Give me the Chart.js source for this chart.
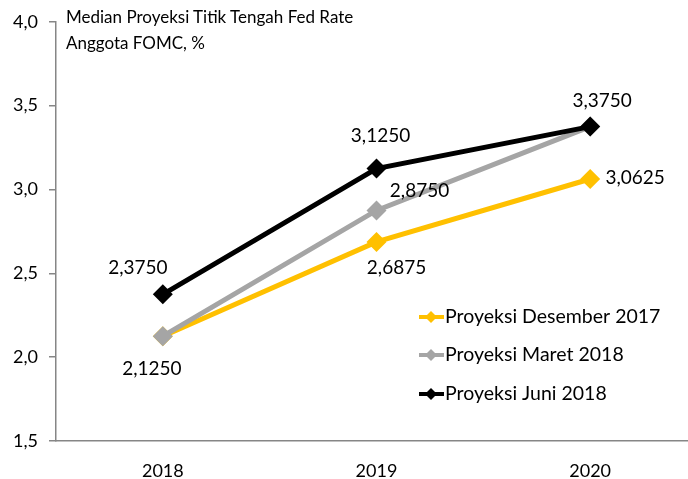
<!DOCTYPE html>
<html>
<head>
<meta charset="utf-8">
<script src="https://cdn.jsdelivr.net/npm/chart.js@4.4.1/dist/chart.umd.min.js"></script>
<style>
  html, body { margin: 0; padding: 0; background: #fff; overflow: hidden; }
  #wrap { position: relative; width: 688px; height: 479px; overflow: hidden; }
  #chart { position: absolute; left: 0; top: 0; }
  #title { position: absolute; left: 66px; top: 4px; font: 17px Lato, sans-serif; line-height: 26px; color: #000; }
</style>
</head>
<body>
<div id="wrap">
  <canvas id="chart" width="707" height="479"></canvas>
  <div id="title">Median Proyeksi Titik Tengah Fed Rate<br>Anggota FOMC, %</div>
</div>
<script>
const years = ["2018", "2019", "2020"];
const seriesNames = ["Proyeksi Desember 2017", "Proyeksi Maret 2018", "Proyeksi Juni 2018"];
const proyeksiDes2017 = [2.125, 2.6875, 3.0625];
const proyeksiMar2018 = [2.125, 2.875, 3.375];
const proyeksiJun2018 = [2.375, 3.125, 3.375];
const yTicks = [1.5, 2.0, 2.5, 3.0, 3.5, 4.0];

const colors = ["#FFC000", "#A5A5A5", "#000000"];

// label offsets from the point (null = no label), as in the picture
const labelOffsets = [
  [null, [20, 26], [45, -1]],
  [[-11, 33], [43, -20], null],
  [[-25, -26], [4, -33], [12, -26]]
];

const fmt = v => v.toFixed(4).replace(".", ",");

const dataLabels = {
  id: "dataLabels",
  afterDatasetsDraw(chart) {
    const ctx = chart.ctx;
    ctx.save();
    ctx.font = "19px Lato, sans-serif";
    ctx.fillStyle = "#000";
    ctx.textAlign = "center";
    ctx.textBaseline = "middle";
    chart.data.datasets.forEach((ds, i) => {
      const meta = chart.getDatasetMeta(i);
      meta.data.forEach((pt, j) => {
        const off = labelOffsets[i][j];
        if (!off) return;
        ctx.fillText(fmt(ds.data[j]), pt.x + off[0], pt.y + off[1]);
      });
    });
    ctx.restore();
  }
};

const innerLegend = {
  id: "innerLegend",
  afterDraw(chart) {
    const ctx = chart.ctx;
    ctx.save();
    ctx.font = "19.5px Lato, sans-serif";
    ctx.textBaseline = "middle";
    const rowsY = [317, 355, 394];
    seriesNames.forEach((name, i) => {
      const y = rowsY[i];
      ctx.strokeStyle = colors[i];
      ctx.lineWidth = 4;
      ctx.beginPath();
      ctx.moveTo(419, y);
      ctx.lineTo(444, y);
      ctx.stroke();
      ctx.fillStyle = colors[i];
      ctx.beginPath();
      ctx.moveTo(431, y - 6);
      ctx.lineTo(437, y);
      ctx.lineTo(431, y + 6);
      ctx.lineTo(425, y);
      ctx.closePath();
      ctx.fill();
      ctx.fillStyle = "#000";
      ctx.fillText(name, 445, y);
    });
    ctx.restore();
  }
};

const makeSet = (label, data, i) => ({
  label: label,
  data: data,
  borderColor: colors[i],
  backgroundColor: colors[i],
  borderWidth: 5,
  pointStyle: "rectRot",
  pointRadius: 10,
  pointBorderWidth: 0,
  pointHoverRadius: 10,
  tension: 0,
  order: 2 - i
});

new Chart(document.getElementById("chart"), {
  type: "line",
  data: {
    labels: years,
    datasets: [
      makeSet(seriesNames[0], proyeksiDes2017, 0),
      makeSet(seriesNames[1], proyeksiMar2018, 1),
      makeSet(seriesNames[2], proyeksiJun2018, 2)
    ]
  },
  options: {
    responsive: false,
    animation: false,
    layout: { padding: { top: 16, right: 0, left: 0, bottom: 0 } },
    plugins: { legend: { display: false }, tooltip: { enabled: false } },
    scales: {
      x: {
        offset: true,
        grid: { display: false },
        border: { display: true, color: "#868686", width: 1.5 },
        ticks: { color: "#000", padding: 11, font: { family: "Lato", size: 18 } },
        afterFit: s => { s.height = 38; }
      },
      y: {
        min: 1.5,
        max: 4.0,
        afterBuildTicks: s => { s.ticks = yTicks.map(v => ({ value: v })); },
        grid: { drawOnChartArea: false, drawTicks: true, tickLength: 7, color: "#868686", lineWidth: 1.5 },
        border: { display: true, color: "#868686", width: 1.5 },
        ticks: {
          color: "#000",
          padding: 11,
          font: { family: "Lato", size: 18 },
          callback: v => v.toFixed(1).replace(".", ",")
        },
        afterFit: s => { s.width = 56; }
      }
    }
  },
  plugins: [dataLabels, innerLegend]
});
</script>
</body>
</html>
